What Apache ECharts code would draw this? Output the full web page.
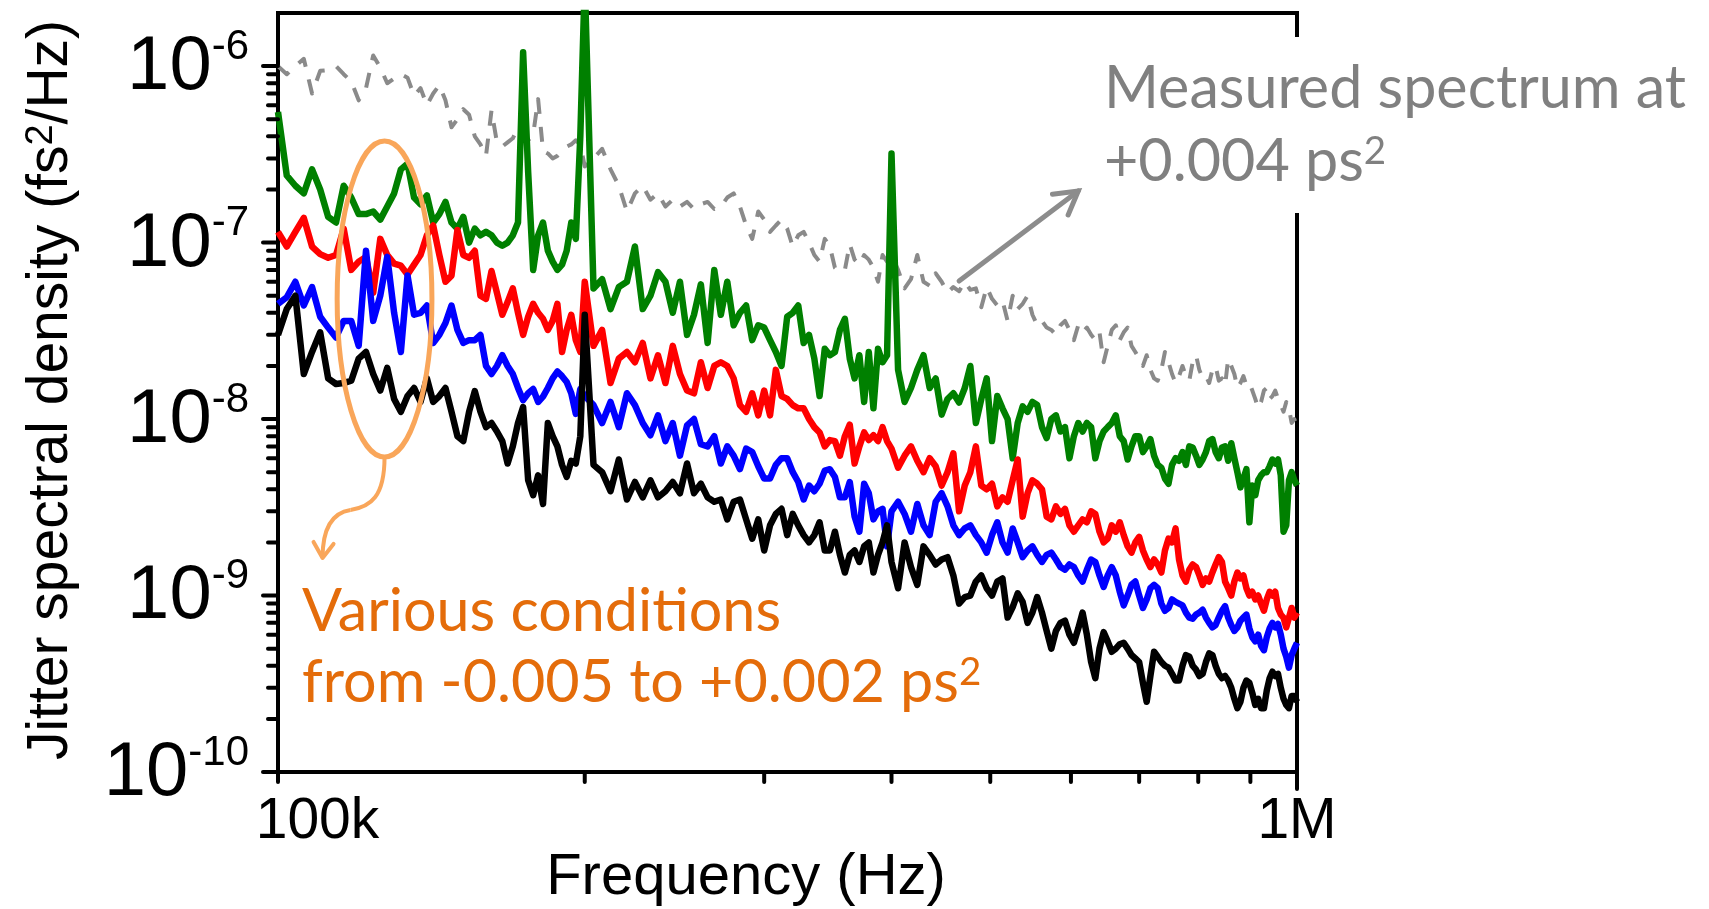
<!DOCTYPE html>
<html>
<head>
<meta charset="utf-8">
<title>Jitter spectral density</title>
<script src="https://cdn.jsdelivr.net/npm/echarts@6/dist/echarts.min.js"></script>
<style>
html,body{margin:0;padding:0;background:#ffffff;}
#chart{width:1709px;height:909px;}
</style>
</head>
<body>
<div id="chart"></div>
<script>
// ---------------- DATA ----------------
// Frequency in kHz
const freqKHz = [
100,102,104,106,108,110,112,114,116,118,
120,122,124,126,128,130,132,134,136,138,
140,142,144,146,148,150,152,154,156,158,
160,162,164,166,168,170,172,174,176,178,
180,182,184,186,188,190,192,194,196,198,
200,
204,208,212,216,220,224,228,232,236,240,
244,248,252,256,260,264,268,272,276,280,
284,288,292,296,300,304,308,312,316,320,
324,328,332,336,340,344,348,352,356,360,
364,368,372,376,380,384,388,392,396,400,
406,412,418,424,430,436,442,448,454,460,
466,472,478,484,490,496,502,508,514,520,
526,532,538,544,550,556,562,568,574,580,
586,592,598,604,610,616,622,628,634,640,
646,652,658,664,670,676,682,688,694,700,
706,712,718,724,730,736,742,748,754,760,
766,772,778,784,790,796,802,808,814,820,
826,832,838,844,850,856,862,868,874,880,
886,892,898,904,910,916,922,928,934,940,
946,952,958,964,970,976,982,988,994,1000
];

// Jitter spectral density, in units of 1e-9 fs^2/Hz
// Measured spectrum at +0.004 ps^2 (grey dashed)
const measuredP004 = [
1000,900,1000,1100,700,940,950,1000,900,820,
640,750,1150,980,800,850,900,860,680,750,
600,700,780,640,450,500,570,530,400,360,
310,560,370,350,370,390,450,430,380,410,
650,330,320,300,310,330,350,360,380,360,
270,
300,340,260,210,150,190,210,175,190,160,
175,160,170,155,165,170,155,160,180,190,
160,125,105,150,135,115,125,135,120,95,
110,115,100,85,78,105,95,72,68,70,
98,80,75,85,80,72,60,85,78,85,
70,55,62,85,60,57,67,60,52,56,
53,60,54,55,43,56,48,44,47,36,
50,42,45,50,39,34,36,33,32,30,
34,36,32,28,34,31,33,30,28,31,
21,26,32,34,28,31,33,26,24,22,
20,23,19,17,16.5,19,24,21,18,16,
17.5,20,17.5,16.5,21,23,19,17,17.5,16,
19,20,16.5,17,15.5,22,20,18,15,16,
17.5,15.5,16,14.5,13,11.5,12.5,14.5,15,13,
13.5,14.5,13,12,11,12.5,11.5,9.5,10,9
];

// Various conditions from -0.005 to +0.002 ps^2
const condGreen = [
550,240,210,190,260,200,140,130,210,180,
145,145,150,135,160,190,260,280,180,165,
185,130,145,170,130,120,140,100,120,110,
115,110,100,96,100,110,130,1200,250,70,
110,130,90,78,70,75,90,130,105,400,
3000,
55,62,42,56,60,95,42,50,68,60,
40,60,30,39,58,27,70,39,60,34,
40,44,28,34,33,28,24,20,38,40,
44,27,30,22,13.5,25,23,24,32,37,
22,17,23,12.5,24,11.5,25,21,23,320,
19,12.5,15,19,23,15,17,10.6,13,14,
12.4,15,20,9.5,13,17,7.5,13.5,11.5,10,
6,9.5,11.8,11,12.5,12,9,7.8,10,10.5,
8.5,9,6,8,9.5,8.5,9.5,9,6,7.5,
8.5,9,9.5,10.5,8,7.5,5.9,7,8,8,
6.5,7,7.7,6.2,5.5,5.3,4.6,4.3,5.5,6,
5.8,6.5,5.5,7,6.9,6.2,5.5,5.9,6.5,7.5,
7.7,6.5,6,6.9,7,5.8,7.3,6,5,4.1,
4.6,5.2,2.6,4.2,3.7,4.5,4.8,5,5,5.4,
5.9,5.6,5.9,4.8,2.3,2.5,4.5,5,4.5,4.2
];

const condRed = [
115,95,115,138,95,86,82,85,120,70,
78,83,52,105,85,76,74,66,75,85,
110,125,85,60,65,118,85,82,90,50,
48,69,52,39,46,55,40,30,38,45,
40,37,32,36,45,24,32,39,28,24,
60,
26,32,16,22,24,21,27,17,23,16,
26,18,14.5,14,21,15,20,21,20,17,
12,11,14,10.5,14.5,10.5,19,13.5,13,12,
11.5,11.5,10,9,8.4,7,7.6,7.5,6.2,8,
9.3,5.6,7,8.4,7.6,8.1,7.5,9,7.5,6.8,
5.3,6.2,7,5.8,5,6,5.4,4.2,5,6.4,
3,4.2,5,7,4.2,4,4.3,3.2,3.6,3.4,
4.5,5.9,2.8,3.8,4.5,4.3,4,2.8,2.7,3.2,
2.9,3.1,2.5,2.3,2.5,2.7,2.6,3,2.9,2.3,
2,2.1,2.5,2.3,2.6,2.2,1.9,1.75,2,2.15,
1.8,1.6,1.45,1.6,1.5,1.35,1.8,2.1,2,2.4,
1.6,1.3,1.2,1.4,1.5,1.45,1.3,1.15,1.25,1.2,
1.35,1.5,1.65,1.55,1.2,1.1,1,1.2,1.35,1.25,
1.3,1.1,1,1.05,0.95,1,0.9,0.82,0.95,1.05,
1,1.05,0.85,0.78,0.75,0.66,0.75,0.85,0.75,0.8
];

const condBlue = [
45,49,60,44,56,38,33,29,36,36,
26,90,36,50,83,40,24,65,39,40,
44,27,30,35,44,32,27,28,28,30,
20,18,20,23,20,18,15,12.8,14,14.8,
12.5,13.4,15,17,18.6,17.5,16.2,14,10.7,14.8,
13.5,
12,9.5,12.5,9,14,12,9.5,8.1,10.5,7.5,
9.5,6.2,9.2,10,7.2,7,8,5.6,7,6.2,
5.2,6.8,6.5,5.4,4.6,4.6,5.5,6,6,5,
4.4,3.5,4.2,3.9,4.3,5.1,5.2,4.7,3.6,3.6,
4.4,2.8,2.3,4.3,3.8,2.7,3,3.1,1.9,3,
3.4,2.9,2.3,3.3,2.5,2.2,3.4,3.8,3.2,2.5,
2.2,2.4,2.5,2.2,2,1.75,2.2,2.6,2,1.75,
2.4,2,1.65,1.8,1.9,1.7,1.55,1.7,1.75,1.6,
1.45,1.4,1.5,1.45,1.3,1.2,1.4,1.6,1.55,1.3,
1.12,1.3,1.45,1.3,1.05,0.88,1,1.15,1.2,1,
0.85,0.95,1.1,1.15,1.1,0.9,0.82,0.85,0.95,0.92,
0.9,0.88,0.8,0.75,0.74,0.78,0.8,0.83,0.75,0.7,
0.66,0.68,0.75,0.82,0.87,0.75,0.68,0.63,0.66,0.72,
0.75,0.78,0.65,0.58,0.55,0.6,0.52,0.49,0.58,0.65,
0.7,0.66,0.69,0.6,0.5,0.45,0.39,0.46,0.5,0.54
];

const condBlack = [
30,42,50,18,24,31,17,15.8,16,16.5,
22,24,18,14.5,19.5,13,11,13.5,15,12.5,
17,12.5,13.5,15,11,8,7.5,11,14.4,11,
9,9.5,8.5,7.5,5.6,7,9.5,11.7,4.5,3.7,
4.8,3.3,9.5,8,7,5.5,4.7,5.8,5.6,8,
39,
5.5,5,3.9,5.9,3.5,4.4,3.6,4.5,3.6,3.9,
4.4,3.8,5.6,3.8,4.3,3.6,3.4,3.5,2.7,3.4,
3.5,2.7,2.1,2.7,1.8,2.5,2.9,3.1,2.2,2.9,
2.5,2.2,2,2.2,2.6,1.8,1.8,2.3,1.7,1.35,
1.7,1.8,1.55,1.9,2,1.35,1.7,2,2.5,1.55,
1.1,2,1.45,1.15,1.9,1.7,1.5,1.6,1.65,1.3,
0.9,0.98,1,1.2,1.3,1.1,1,1.2,1.25,0.75,
0.86,1.03,0.92,0.7,0.8,0.98,0.8,0.63,0.5,0.63,
0.7,0.72,0.6,0.54,0.65,0.8,0.6,0.42,0.34,0.5,
0.62,0.55,0.48,0.5,0.53,0.54,0.5,0.46,0.44,0.42,
0.32,0.25,0.35,0.48,0.45,0.42,0.4,0.39,0.36,0.33,
0.33,0.4,0.46,0.45,0.4,0.38,0.35,0.36,0.42,0.47,
0.46,0.4,0.36,0.34,0.35,0.33,0.3,0.26,0.23,0.25,
0.3,0.33,0.32,0.28,0.24,0.26,0.23,0.23,0.29,0.34,
0.37,0.35,0.36,0.3,0.26,0.24,0.23,0.27,0.27,0.25
];

// Axis ticks and labels
const xTickLabels = {100000: '100k', 1000000: '1M'};
const xMajorTicks = [1e5, 1e6];
const xMinorTicks = [2e5, 3e5, 4e5, 5e5, 6e5, 7e5, 8e5, 9e5];
const yMajorTicks = [1e-10, 1e-9, 1e-8, 1e-7, 1e-6];
const yMinorMantissas = [2, 3, 4, 5, 6, 7, 8, 9];

// Text
const xAxisTitle = 'Frequency (Hz)';
const yAxisTitle = ['Jitter spectral density (fs', '2', '/Hz)'];
const noteMeasured = ['Measured spectrum at', '+0.004 ps', '2'];
const noteConditions = ['Various conditions', 'from -0.005 to +0.002 ps', '2'];

// ---------------- CHART ----------------
const UNIT = 1e-9;
const AX_FONT = '"Liberation Sans", Arial, Helvetica, sans-serif';
const NOTE_FONT = 'Lato, "Open Sans", sans-serif';

function toPairs(vals) {
  return freqKHz.map((f, i) => [f * 1000, vals[i] * UNIT]);
}

const seriesDefs = [
  {name: 'Measured +0.004 ps2', vals: measuredP004, color: '#8a8a8a', width: 4, dash: [15, 13]},
  {name: 'cond A', vals: condGreen, color: '#008000', width: 6.5},
  {name: 'cond B', vals: condRed, color: '#ff0000', width: 6.5},
  {name: 'cond C', vals: condBlue, color: '#0000ff', width: 6.5},
  {name: 'cond D', vals: condBlack, color: '#000000', width: 6.5}
];

const chart = echarts.init(document.getElementById('chart'), null, {renderer: 'canvas'});

const option = {
  backgroundColor: '#ffffff',
  animation: false,
  grid: {left: 278, right: 412, top: 13, bottom: 137, show: true,
         borderColor: '#000', borderWidth: 4, backgroundColor: 'transparent'},
  xAxis: {
    type: 'log', logBase: 10, min: 1e5, max: 1e6,
    axisLine: {show: true, onZero: false, lineStyle: {color: '#000', width: 4}},
    axisTick: {show: false}, minorTick: {show: false},
    splitLine: {show: false}, minorSplitLine: {show: false},
    axisLabel: {
      margin: 22, color: '#000', fontFamily: AX_FONT, fontSize: 57, lineHeight: 57,
      formatter: function (v) {
        const l = xTickLabels[Math.round(v)];
        if (!l) return '';
        return v < 5e5 ? '{l|' + l + '}' : '{r|' + l + '}';
      },
      rich: {
        l: {fontSize: 57, fontFamily: AX_FONT, color: '#000', lineHeight: 57, padding: [0, 0, 0, 79]},
        r: {fontSize: 57, fontFamily: AX_FONT, color: '#000', lineHeight: 57}
      }
    }
  },
  yAxis: {
    type: 'log', logBase: 10, min: 1e-10, max: 2e-6,
    axisLine: {show: true, onZero: false, lineStyle: {color: '#000', width: 4}},
    axisTick: {show: false}, minorTick: {show: false},
    splitLine: {show: false}, minorSplitLine: {show: false},
    axisLabel: {
      margin: 29, color: '#000',
      formatter: function (v) {
        const e = Math.log10(v);
        const r = Math.round(e);
        if (Math.abs(e - r) > 1e-6) return '';
        return '{b|10}{s|' + r + '}';
      },
      rich: {
        b: {fontSize: 76, fontFamily: AX_FONT, color: '#000', lineHeight: 80, verticalAlign: 'bottom'},
        s: {fontSize: 42, fontFamily: AX_FONT, color: '#000', lineHeight: 32, verticalAlign: 'top'}
      }
    }
  },
  series: seriesDefs.map(d => ({
    name: d.name, type: 'line', data: toPairs(d.vals),
    showSymbol: false, symbol: 'none', smooth: false, clip: true,
    lineStyle: {color: d.color, width: d.width, type: d.dash || 'solid', join: 'round', cap: 'butt'},
    emphasis: {disabled: true}
  }))
};
chart.setOption(option);

// ---------- decorations (ticks, annotations) ----------
const P = (f, v) => chart.convertToPixel({xAxisIndex: 0, yAxisIndex: 0}, [f, v]);
const [gx0, gy0] = P(1e5, 1e-10);
const [gx1, gy1] = P(1e6, 2e-6);

const g = [];
function seg(x1, y1, x2, y2, color, w, z) {
  g.push({type: 'line', silent: true, z: z || 50,
          shape: {x1: x1, y1: y1, x2: x2, y2: y2},
          style: {stroke: color, lineWidth: w, lineCap: 'round'}});
}
// y ticks (outward, left)
yMajorTicks.forEach(v => { const y = P(1e5, v)[1]; seg(gx0 - 15, y, gx0, y, '#000', 4); });
yMajorTicks.slice(0, 4).forEach(dec => {
  yMinorMantissas.forEach(m => { const y = P(1e5, m * dec)[1]; seg(gx0 - 10, y, gx0, y, '#000', 4); });
});
// x ticks (outward, down)
xMinorTicks.forEach(f => { const x = P(f, 1e-10)[0]; seg(x, gy0, x, gy0 + 10, '#000', 4); });
seg(P(1e5, 1e-10)[0], gy0, P(1e5, 1e-10)[0], gy0 + 10, '#000', 4);
seg(P(1e6, 1e-10)[0], gy0, P(1e6, 1e-10)[0], gy0 + 17, '#000', 4);

// white gap in right frame behind the grey note
g.push({type: 'rect', silent: true, z: 60,
        shape: {x: gx1 - 8, y: 37, width: 16, height: 176}, style: {fill: '#ffffff'}});

// fitted annotation font size
function fitSize(text, family, targetW) {
  const c = document.createElement('canvas').getContext('2d');
  c.font = '100px ' + family;
  return 100 * targetW / c.measureText(text).width;
}
const S = fitSize(noteMeasured[0], 'Lato', 582);
const MID = 0.387;

function noteText(x, baseline, main, sup, color) {
  const txt = sup ? '{a|' + main + '}{s|' + sup + '}' : '{a|' + main + '}';
  g.push({type: 'text', silent: true, z: 70, x: x, y: baseline - MID * S,
    style: {text: txt, fill: color, fontFamily: NOTE_FONT, fontSize: S,
      align: 'left', verticalAlign: 'middle', textAlign: 'left', textVerticalAlign: 'middle',
      rich: {
        a: {fontSize: S, fontFamily: NOTE_FONT, fill: color, color: color, lineHeight: S, verticalAlign: 'middle'},
        s: {fontSize: S * 0.65, fontFamily: NOTE_FONT, fill: color, color: color, lineHeight: S * 0.7, verticalAlign: 'top'}
      }}});
}
noteText(1104, 112, noteMeasured[0], null, '#808080');
noteText(1104, 185, noteMeasured[1], noteMeasured[2], '#808080');
noteText(302, 635, noteConditions[0], null, '#e46c0a');
noteText(302, 706, noteConditions[1], noteConditions[2], '#e46c0a');

// orange ellipse around low-frequency features
const eTL = P(114.3e3, 3.76e-7), eBR = P(141.6e3, 6.1e-9);
const ecx = (eTL[0] + eBR[0]) / 2, ecy = (eTL[1] + eBR[1]) / 2;
const erx = (eBR[0] - eTL[0]) / 2, ery = (eBR[1] - eTL[1]) / 2;
const ORANGE = '#f9a65a';
g.push({type: 'ellipse', silent: true, z: 55, shape: {cx: ecx, cy: ecy, rx: erx, ry: ery},
        style: {fill: 'none', stroke: ORANGE, lineWidth: 5}});
const bx = ecx, by = ecy + ery;
g.push({type: 'bezierCurve', silent: true, z: 55,
  shape: {x1: bx, y1: by, cpx1: bx, cpy1: by + 40, cpx2: bx - 14, cpy2: by + 50, x2: bx - 34, y2: by + 53},
  style: {fill: 'none', stroke: ORANGE, lineWidth: 4}});
g.push({type: 'bezierCurve', silent: true, z: 55,
  shape: {x1: bx - 34, y1: by + 53, cpx1: bx - 54, cpy1: by + 56, cpx2: bx - 62, cpy2: by + 75, x2: bx - 62, y2: by + 101},
  style: {fill: 'none', stroke: ORANGE, lineWidth: 4}});
g.push({type: 'polyline', silent: true, z: 55,
  shape: {points: [[bx - 71, by + 85], [bx - 62, by + 101], [bx - 51, by + 87]]},
  style: {fill: 'none', stroke: ORANGE, lineWidth: 4, lineJoin: 'round', lineCap: 'round'}});

// grey arrow pointing from measured curve to the note
const aT = P(466e3, 6.05e-8), aH = P(610e3, 1.96e-7);
const GREY = '#8c8c8c';
seg(aT[0], aT[1], aH[0], aH[1], GREY, 5, 55);
(function () {
  const dx = aH[0] - aT[0], dy = aH[1] - aT[1], L = Math.hypot(dx, dy);
  const ux = dx / L, uy = dy / L, hl = 26, ang = Math.PI / 6;
  const c = Math.cos(ang), s = Math.sin(ang);
  const p1 = [aH[0] - hl * (ux * c - uy * s), aH[1] - hl * (uy * c + ux * s)];
  const p2 = [aH[0] - hl * (ux * c + uy * s), aH[1] - hl * (uy * c - ux * s)];
  g.push({type: 'polyline', silent: true, z: 55, shape: {points: [p1, aH, p2]},
          style: {fill: 'none', stroke: GREY, lineWidth: 5, lineJoin: 'miter', lineCap: 'round'}});
})();

// axis titles
g.push({type: 'text', silent: true, z: 70, x: 746, y: 878,
  style: {text: xAxisTitle, fill: '#000', fontFamily: AX_FONT, fontSize: 58,
    align: 'center', verticalAlign: 'middle', textAlign: 'center', textVerticalAlign: 'middle'}});
g.push({type: 'text', silent: true, z: 70, x: 51, y: 390, rotation: Math.PI / 2,
  style: {text: '{a|' + yAxisTitle[0] + '}{s|' + yAxisTitle[1] + '}{a|' + yAxisTitle[2] + '}',
    fill: '#000', fontFamily: AX_FONT, fontSize: 57,
    align: 'center', verticalAlign: 'middle', textAlign: 'center', textVerticalAlign: 'middle',
    rich: {
      a: {fontSize: 57, fontFamily: AX_FONT, fill: '#000', color: '#000', lineHeight: 57, verticalAlign: 'middle'},
      s: {fontSize: 38, fontFamily: AX_FONT, fill: '#000', color: '#000', lineHeight: 36, verticalAlign: 'top'}
    }}});

chart.setOption({graphic: g});
</script>
</body>
</html>
